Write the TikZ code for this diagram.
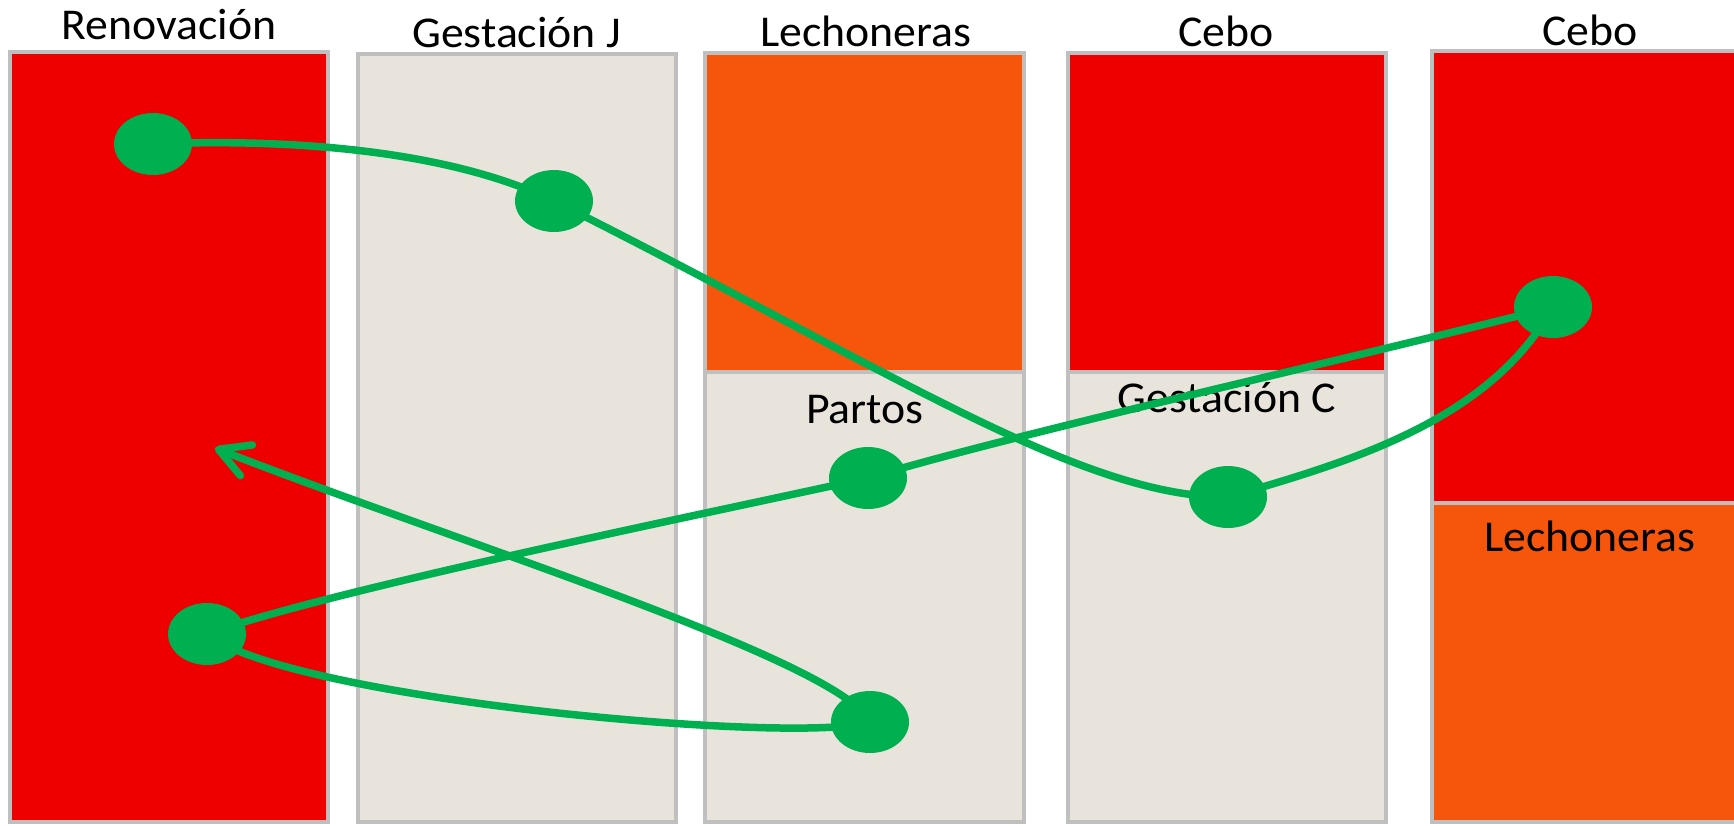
\documentclass[tikz,border=0pt]{standalone}
\usepackage{fontspec}
\setmainfont{Carlito}[FakeStretch=1.04]
\usetikzlibrary{shapes.geometric,arrows.meta}
\definecolor{cred}{HTML}{EE0000}
\definecolor{corange}{HTML}{F5560C}
\definecolor{cbeige}{HTML}{E8E4DC}
\definecolor{cgray}{HTML}{BFBFBF}
\definecolor{cgreen}{HTML}{00B050}
\pgfdeclarelayer{bg}
\pgfdeclarelayer{mid}
\pgfsetlayers{bg,mid,main}
\tikzset{
  colbox/.style={draw=cgray, line width=3.3pt},
  lbl/.style={anchor=base, inner sep=0pt, font=\fontsize{44}{52}\selectfont},
  dot/.style={ellipse, fill=cgreen, draw=none, minimum width=78pt, minimum height=62pt, inner sep=0pt},
  flow/.style={draw=cgreen, line width=7.5pt, line cap=round, -{Straight Barb[length=30pt,width=33pt,round]}}
}
\begin{document}
\begin{tikzpicture}[x=1pt,y=-1pt]
\useasboundingbox (0,0) rectangle (1734,825);
\begin{pgfonlayer}{bg}
\fill[white] (0,0) rectangle (1734,825);
% columns
\draw[colbox, fill=cred] (10,52) rectangle (328,822);
\draw[colbox, fill=cbeige] (358,54) rectangle (676,822);
\draw[colbox, fill=corange] (705,53) rectangle (1024,372);
\draw[colbox, fill=cbeige] (705,372) rectangle (1024,822);
\draw[colbox, fill=cred] (1068,53) rectangle (1386,372);
\draw[colbox, fill=cbeige] (1068,372) rectangle (1386,822);
\draw[colbox, fill=cred] (1432,51) rectangle (1752,503);
\draw[colbox, fill=corange] (1432,503) rectangle (1752,822);
% labels
\node[lbl] (l1) at (169,39) {Renovación};
\node[lbl] (l2) at (516.5,47) {Gestación J};
\node[lbl] (l3) at (866,46) {Lechoneras};
\node[lbl] (l4) at (1226,46) {Cebo};
\node[lbl] (l5) at (1590,45) {Cebo};
\node[lbl] (l6) at (865,423) {Partos};
\node[lbl] (l7) at (1227,412) {Gestación C};
\node[lbl] (l8) at (1590,551) {Lechoneras};
\end{pgfonlayer}
% dots
\node[dot] (d1) at (153,144) {};
\node[dot] (d2) at (554,201) {};
\node[dot] (d3) at (1553,307) {};
\node[dot] (d4) at (868,478) {};
\node[dot] (d5) at (1228,497) {};
\node[dot] (d6) at (207,634) {};
\node[dot] (d7) at (870,722) {};
\coordinate (tip) at (215,448);
\begin{pgfonlayer}{mid}
\draw[flow] (d1.center) .. controls (270,139) and (440,146) .. (d2.center)
  .. controls (884,366) and (1078,497) .. (d5.center)
  .. controls (1353,461) and (1490,420) .. (d3.center)
  .. controls (1380,352) and (1020,432) .. (d4.center)
  .. controls (700,515) and (330,590) .. (d6.center)
  .. controls (290,700) and (800,745) .. (d7.center)
  .. controls (840,660) and (450,540) .. (tip);
\end{pgfonlayer}
\end{tikzpicture}
\end{document}
